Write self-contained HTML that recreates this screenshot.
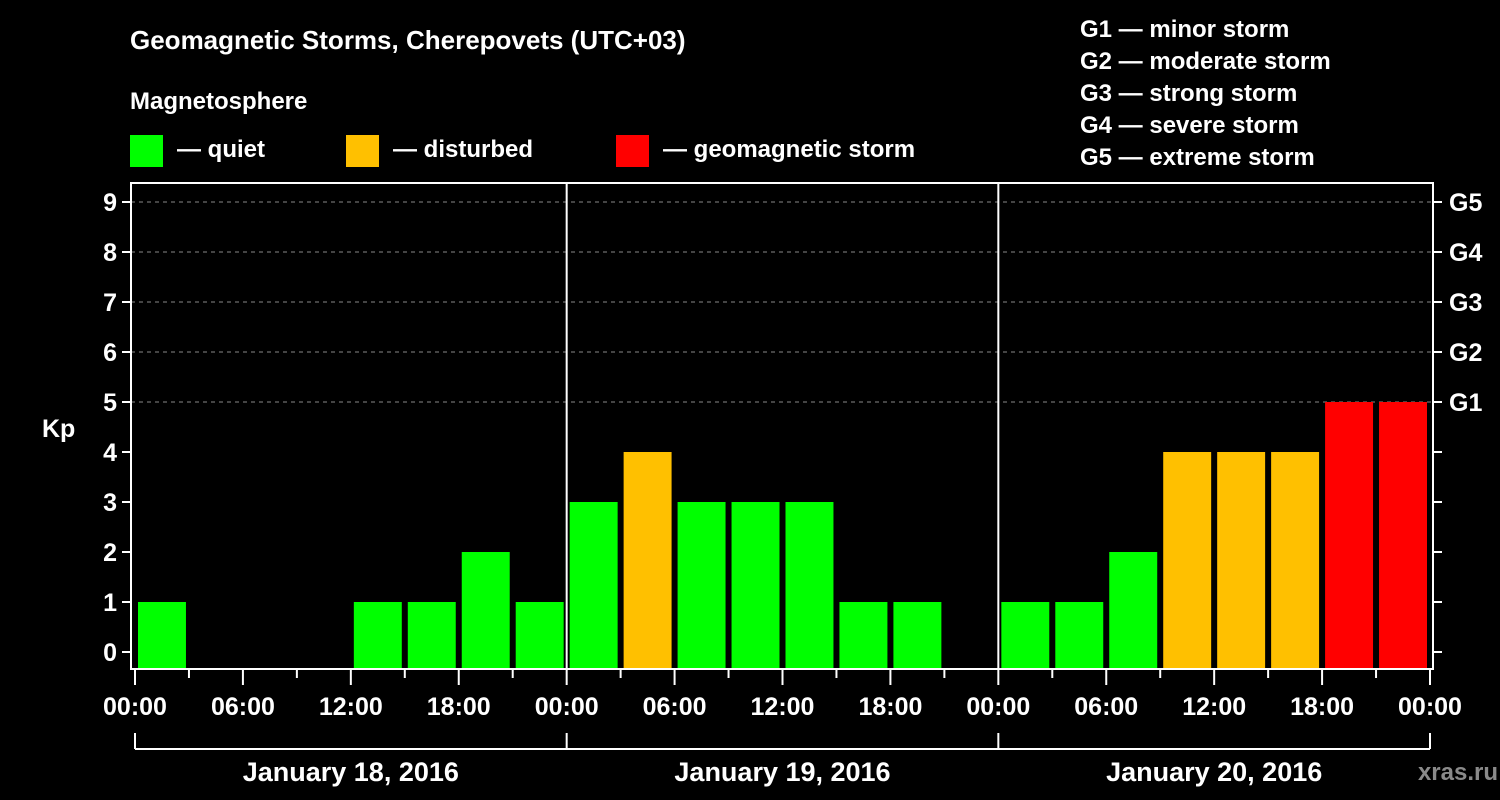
<!DOCTYPE html>
<html><head><meta charset="utf-8"><style>
html,body{margin:0;padding:0;background:#000;}
svg{display:block;}
text{font-family:"Liberation Sans",Arial,sans-serif;font-weight:bold;fill:#fff;}
</style></head><body>
<svg id="chart" width="1500" height="800" viewBox="0 0 1500 800">
<rect width="1500" height="800" fill="#000"/>
<text x="130" y="49" font-size="26">Geomagnetic Storms, Cherepovets (UTC+03)</text>
<text x="130" y="109" font-size="24">Magnetosphere</text>
<g><rect x="130" y="135" width="33" height="32" fill="#00ff00"/><text x="177" y="157" font-size="24">— quiet</text></g>
<g><rect x="346" y="135" width="33" height="32" fill="#ffc000"/><text x="393" y="157" font-size="24">— disturbed</text></g>
<g><rect x="616" y="135" width="33" height="32" fill="#ff0000"/><text x="663" y="157" font-size="24">— geomagnetic storm</text></g>
<g font-size="24">
<text x="1080" y="37">G1 — minor storm</text>
<text x="1080" y="69">G2 — moderate storm</text>
<text x="1080" y="101">G3 — strong storm</text>
<text x="1080" y="133">G4 — severe storm</text>
<text x="1080" y="165">G5 — extreme storm</text>
</g>
<g id="grid"></g><g id="bars"></g><g id="axes"></g>
<text x="1498" y="780" font-size="24" text-anchor="end" fill="#888" style="fill:#8a8a8a">xras.ru</text>
</svg>
<script>
const kpValues = [1,null,null,null,1,1,2,1, 3,4,3,3,3,1,1,null, 1,1,2,4,4,4,5,5];
const yTicks = [0,1,2,3,4,5,6,7,8,9];
const gLabels = ["G1","G2","G3","G4","G5"];
const xTickLabels = ["00:00","06:00","12:00","18:00","00:00","06:00","12:00","18:00","00:00","06:00","12:00","18:00","00:00"];
const dayLabels = ["January 18, 2016","January 19, 2016","January 20, 2016"];

const NS="http://www.w3.org/2000/svg";
const L=131,R=1433,T=183,B=669,X0=135,X1=1430;
const xh=h=>X0+h*(X1-X0)/72;
const yv=v=>652-v*50;
function mk(tag,attrs,parent,txt){const e=document.createElementNS(NS,tag);for(const k in attrs)e.setAttribute(k,attrs[k]);if(txt!==undefined)e.textContent=txt;parent.appendChild(e);return e;}
const grid=document.getElementById('grid'),bars=document.getElementById('bars'),axes=document.getElementById('axes');
const color=v=>v>=5?"#ff0000":(v>=4?"#ffc000":"#00ff00");
for(let i=5;i<=9;i++){
 const g=mk('line',{x1:L,x2:R,y1:yv(i),y2:yv(i),stroke:'#888','stroke-dasharray':'4,4','stroke-width':1},grid);
 
 
}
kpValues.forEach((v,i)=>{
 if(v===null)return;
 const x=xh(i*3)+3,w=xh(i*3+3)-xh(i*3)-6;
 const r=mk('rect',{x:x,y:yv(v),width:w,height:B-yv(v),fill:color(v)},bars);
 
 
});
const frame=mk('rect',{x:L,y:T,width:R-L,height:B-T,fill:'none',stroke:'#fff','stroke-width':2},axes);


[1,2].forEach(d=>{const l=mk('line',{x1:xh(d*24),x2:xh(d*24),y1:T,y2:B,stroke:'#fff','stroke-width':2},axes);
 
 });
yTicks.forEach(v=>{
 mk('line',{x1:L-9,x2:L,y1:yv(v),y2:yv(v),stroke:'#fff','stroke-width':2},axes);
 mk('line',{x1:R,x2:R+9,y1:yv(v),y2:yv(v),stroke:'#fff','stroke-width':2},axes);
 const t=mk('text',{x:117,y:yv(v)+9,'font-size':25,'text-anchor':'end'},axes,String(v));
 
 
});
gLabels.forEach((g,i)=>{const t=mk('text',{x:1449,y:yv(5+i)+9,'font-size':25},axes,g);
 
 });
const yt=mk('text',{x:42,y:437,'font-size':25},axes,'Kp');


for(let i=0;i<=24;i++){
 const x=xh(i*3),major=i%2===0;
 mk('line',{x1:x,x2:x,y1:B,y2:major?685:678,stroke:'#fff','stroke-width':2},axes);
}
xTickLabels.forEach((s,i)=>{const t=mk('text',{x:xh(i*6),y:715,'font-size':25,'text-anchor':'middle'},axes,s);
 
 });
mk('line',{x1:X0,x2:X1,y1:749,y2:749,stroke:'#fff','stroke-width':2},axes);
for(let d=0;d<=3;d++)mk('line',{x1:xh(d*24),x2:xh(d*24),y1:733,y2:749,stroke:'#fff','stroke-width':2},axes);
dayLabels.forEach((s,i)=>{const t=mk('text',{x:xh(i*24+12),y:781,'font-size':27,'text-anchor':'middle'},axes,s);
 
 });
</script>
</body></html>
